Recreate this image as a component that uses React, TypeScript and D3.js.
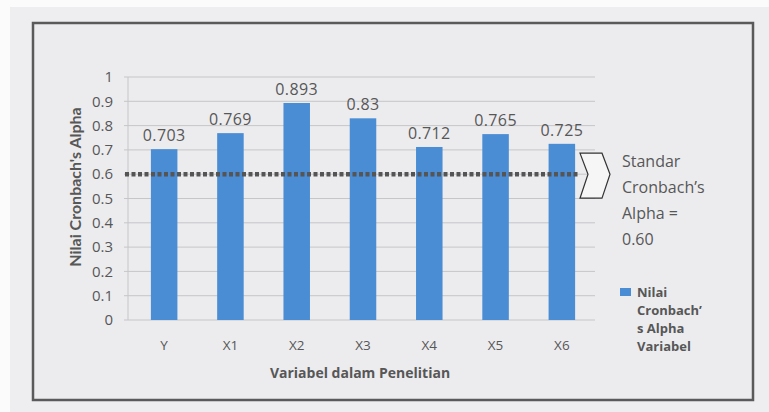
import React from "react";
import * as d3 from "d3";

const categories = ["Y", "X1", "X2", "X3", "X4", "X5", "X6"];
const alphaValues = [0.703, 0.769, 0.893, 0.83, 0.712, 0.765, 0.725];
const valueLabels = ["0.703", "0.769", "0.893", "0.83", "0.712", "0.765", "0.725"];
const yTicks = [0, 0.1, 0.2, 0.3, 0.4, 0.5, 0.6, 0.7, 0.8, 0.9, 1];
const yTickLabels = ["0", "0.1", "0.2", "0.3", "0.4", "0.5", "0.6", "0.7", "0.8", "0.9", "1"];
const standardValue = 0.6;
const standardLines = ["Standar", "Cronbach\u2019s", "Alpha =", "0.60"];
const legendLines = ["Nilai", "Cronbach\u2019", "s Alpha", "Variabel"];

const W = 769;
const H = 412;
const plot = { left: 131, right: 595, top: 77, bottom: 320 };
const font = "'Open Sans', Lato, sans-serif";
const textColor = "#575757";
const barColor = "#4a8dd5";

export default function App() {
  const x = d3
    .scaleBand()
    .domain(categories)
    .range([plot.left, plot.right])
    .paddingInner(0.6)
    .paddingOuter(0.3);

  const y = d3.scaleLinear().domain([0, 1]).range([plot.bottom, plot.top]);

  const yStd = y(standardValue);
  // chevron next to the dashed standard line
  const chev = d3.line()([
    [580, yStd - 21],
    [602, yStd - 21],
    [610, yStd],
    [602, yStd + 24],
    [580, yStd + 24],
    [588, yStd],
  ]) + "Z";

  return (
    <svg
      width={W}
      height={H}
      style={{ position: "absolute", left: 0, top: 0, display: "block" }}
    >
      <rect x={0} y={0} width={W} height={H} fill="#fbfbfb" />
      <rect x={10} y={7} width={W - 10} height={H - 7} fill="#eeeef0" />
      <rect
        x={33}
        y={23}
        width={720}
        height={377}
        fill="#ececef"
        stroke="#5a5a5a"
        strokeWidth={2.5}
      />

      {/* gridlines */}
      {yTicks.map((t) => (
        <line
          key={t}
          x1={plot.left - 7}
          x2={plot.right}
          y1={y(t)}
          y2={y(t)}
          stroke="#c6c6c8"
          strokeWidth={1}
        />
      ))}
      <line
        x1={plot.left - 3}
        x2={plot.left - 3}
        y1={plot.top}
        y2={plot.bottom}
        stroke="#c6c6c8"
      />

      {/* y tick labels */}
      {yTicks.map((t, i) => (
        <text
          key={"yl" + t}
          x={113}
          y={y(t)}
          dy="0.35em"
          textAnchor="end"
          fontFamily={font}
          fontSize={15}
          fill={textColor}
        >
          {yTickLabels[i]}
        </text>
      ))}

      {/* bars */}
      {categories.map((c, i) => (
        <rect
          key={c}
          x={x(c)}
          y={y(alphaValues[i])}
          width={x.bandwidth()}
          height={plot.bottom - y(alphaValues[i])}
          fill={barColor}
        />
      ))}

      {/* value labels */}
      {categories.map((c, i) => (
        <text
          key={"v" + c}
          x={(x(c) as number) + x.bandwidth() / 2}
          y={y(alphaValues[i]) - 8}
          textAnchor="middle"
          fontFamily={font}
          fontSize={16}
          letterSpacing={0.4}
          fill={textColor}
        >
          {valueLabels[i]}
        </text>
      ))}

      {/* category labels */}
      {categories.map((c) => (
        <text
          key={"c" + c}
          x={(x(c) as number) + x.bandwidth() / 2}
          y={350}
          textAnchor="middle"
          fontFamily={font}
          fontSize={13.5}
          fill={textColor}
        >
          {c}
        </text>
      ))}

      {/* standard line */}
      <line
        x1={plot.left - 6}
        x2={580}
        y1={yStd}
        y2={yStd}
        stroke="#555"
        strokeWidth={4.5}
        strokeDasharray="4 2.5"
      />
      <path d={chev} fill="#f6f6f6" stroke="#333" strokeWidth={1.2} />
      {standardLines.map((s, i) => (
        <text
          key={"s" + i}
          x={622}
          y={167 + i * 26}
          fontFamily={font}
          fontSize={16}
          fill={textColor}
        >
          {s}
        </text>
      ))}

      {/* axis titles */}
      <text
        x={360}
        y={378}
        textAnchor="middle"
        fontFamily={font}
        fontSize={14}
        fontWeight="bold"
        fill={textColor}
      >
        Variabel dalam Penelitian
      </text>
      <text
        transform={`translate(81, 187) rotate(-90)`}
        textAnchor="middle"
        fontFamily="'Liberation Sans Narrow', Lato, sans-serif"
        fontSize={16}
        fontWeight="bold"
        fill={textColor}
      >
        Nilai Cronbach's Alpha
      </text>

      {/* legend */}
      <rect x={620} y={288} width={11} height={8} fill={barColor} />
      {legendLines.map((s, i) => (
        <text
          key={"l" + i}
          x={637}
          y={297 + i * 18}
          fontFamily={font}
          fontSize={13}
          fontWeight="bold"
          fill={textColor}
        >
          {s}
        </text>
      ))}
    </svg>
  );
}
